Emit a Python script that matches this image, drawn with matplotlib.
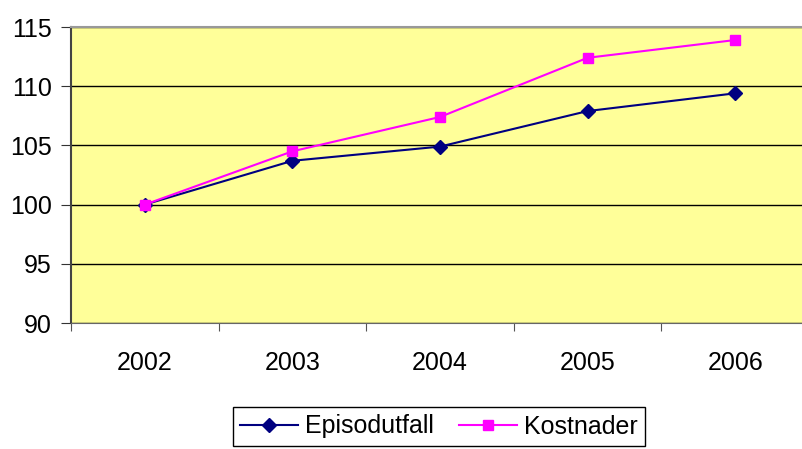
import matplotlib.pyplot as plt

years = ["2002", "2003", "2004", "2005", "2006"]
episodutfall = [100.0, 103.7, 104.9, 107.9, 109.4]
kostnader = [100.0, 104.5, 107.4, 112.4, 113.9]

plt.rcParams["font.family"] = ["Liberation Sans", "DejaVu Sans"]

fig = plt.figure(figsize=(8.03, 4.49), dpi=100)
ax = fig.add_axes([71 / 803, 1 - 323 / 449, 738 / 803, 296 / 449])
ax.set_facecolor("#FFFF99")

x = range(len(years))
ax.plot(x, episodutfall, color="#000080", marker="D", markersize=7, lw=1.5,
        label="Episodutfall", zorder=3)
ax.plot(x, kostnader, color="#FF00FF", marker="s", markersize=7.5, lw=1.5,
        label="Kostnader", zorder=3)

ax.set_xlim(-0.5, 4.5)
ax.set_ylim(90, 115)
ax.set_yticks([90, 95, 100, 105, 110, 115])
ax.set_xticks([i - 0.5 for i in range(6)], minor=False)
ax.set_xticklabels([])
ax.set_xticks(list(x), minor=True)
ax.set_xticklabels(years, minor=True)
ax.tick_params(axis="x", which="minor", length=0, pad=20, labelsize=18)
ax.tick_params(axis="x", which="major", length=6, color="#555555")
ax.tick_params(axis="y", length=7, labelsize=18, pad=7, color="#333333")
ax.grid(axis="y", color="black", lw=1)
ax.set_axisbelow(True)

ax.spines["left"].set_color("#444444")
ax.spines["left"].set_linewidth(1.5)
ax.spines["bottom"].set_color("#666666")
ax.spines["top"].set_color("#999999")
ax.spines["top"].set_linewidth(1.5)
ax.spines["right"].set_visible(False)

leg = fig.legend(loc="upper center", bbox_to_anchor=(439 / 803, 1 - 407 / 449),
                 ncol=2, fancybox=False, edgecolor="black", fontsize=18,
                 handlelength=2.3, handletextpad=0.3, columnspacing=1.0,
                 borderpad=0.3, borderaxespad=0, framealpha=1)
leg.get_frame().set_linewidth(1)

fig.savefig("out.png", dpi=100)
